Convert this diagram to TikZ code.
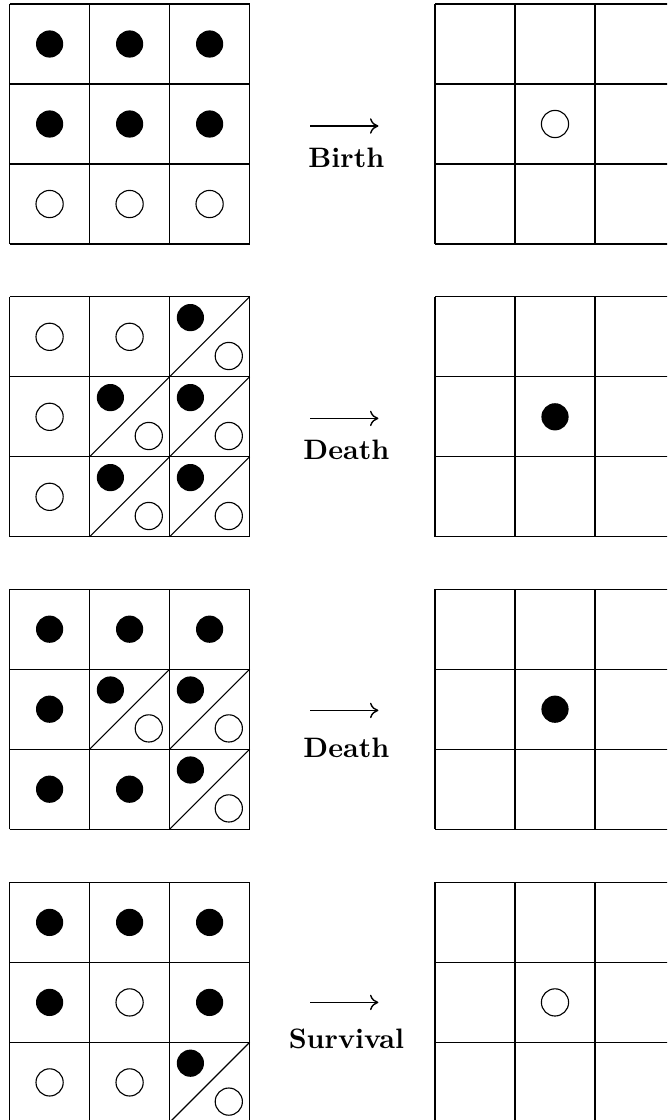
\documentclass[tikz,border=0pt]{standalone}
\usepackage{amsmath}
\usetikzlibrary{arrows.meta}
\begin{document}
\begin{tikzpicture}[x=1cm, y=1cm,
			>={Computer Modern Rightarrow[length=3pt,width=5.5pt]},   % Pfeilspitze wie \longrightarrow
			alive/.style={fill=black},
			dead/.style={draw=black},
			split/.style={draw=black},
			font=\normalsize, scale=1]
			\useasboundingbox (0,0) rectangle (8.3375,-14);
			\clip (0,0) rectangle (8.3375,-14); %Bildbereich
			% Gitter links und rechts
			\foreach \top in {0.05,3.71,7.365,11.03}{
				\draw[shift={(0.12,-\top)}] (0,0) grid (3,-3);
				\draw[shift={(5.4375,-\top)}] (0,0) grid (3,-3);
			}
			% Birth
			\begin{scope}[shift={(0.12,-0.05)}]
				\foreach \c/\r in {0/0,1/0,2/0,0/1,1/1,2/1} \path[alive] (\c+0.5,-\r-0.5) circle (0.17);
				\foreach \c/\r in {0/2,1/2,2/2} \path[dead] (\c+0.5,-\r-0.5) circle (0.17);
			\end{scope}
			\path[dead] (6.9375,-0.05-1.5) circle (0.17);
			% Death
			\begin{scope}[shift={(0.12,-3.71)}]
				\foreach \c/\r in {0/0,1/0,0/1,0/2} \path[dead] (\c+0.5,-\r-0.5) circle (0.17);
				\foreach \c/\r in {2/0,1/1,2/1,1/2,2/2}{
					\draw[split] (\c,-\r-1) -- (\c+1,-\r);
					\path[alive] (\c+0.26,-\r-0.26) circle (0.17);
					\path[dead] (\c+0.74,-\r-0.74) circle (0.17);
				}
			\end{scope}
			\path[alive] (6.9375,-3.71-1.5) circle (0.17);
			% Death
			\begin{scope}[shift={(0.12,-7.365)}]
				\foreach \c/\r in {0/0,1/0,2/0,0/1,0/2,1/2} \path[alive] (\c+0.5,-\r-0.5) circle (0.17);
				\foreach \c/\r in {1/1,2/1,2/2}{
					\draw[split] (\c,-\r-1) -- (\c+1,-\r);
					\path[alive] (\c+0.26,-\r-0.26) circle (0.17);
					\path[dead] (\c+0.74,-\r-0.74) circle (0.17);
				}
			\end{scope}
			\path[alive] (6.9375,-7.365-1.5) circle (0.17);
			% Survival
			\begin{scope}[shift={(0.12,-11.03)}]
				\foreach \c/\r in {0/0,1/0,2/0,0/1,2/1} \path[alive] (\c+0.5,-\r-0.5) circle (0.17);
				\foreach \c/\r in {1/1,0/2,1/2} \path[dead] (\c+0.5,-\r-0.5) circle (0.17);
				\foreach \c/\r in {2/2}{
					\draw[split] (\c,-\r-1) -- (\c+1,-\r);
					\path[alive] (\c+0.26,-\r-0.26) circle (0.17);
					\path[dead] (\c+0.74,-\r-0.74) circle (0.17);
				}
			\end{scope}
			\path[dead] (6.9375,-11.03-1.5) circle (0.17);
			% Pfeile mit Beschriftung
			\foreach \n/\ay/\ly/\txt in {1/1.575/2.09/Birth,2/5.23/5.74/Death,3/8.88/9.47/Death,4/12.53/13.11/Survival}{
				\coordinate (from\n) at (3.88,-\ay);
				\coordinate (to\n) at (4.73,-\ay);
				\draw[->, line width=0.5pt] (from\n) -- (to\n);
				\node[anchor=base, font=\bfseries, inner sep=0pt] (rule\n) at (4.33,-\ly) {\txt};
			}
		\end{tikzpicture}
\end{document}
